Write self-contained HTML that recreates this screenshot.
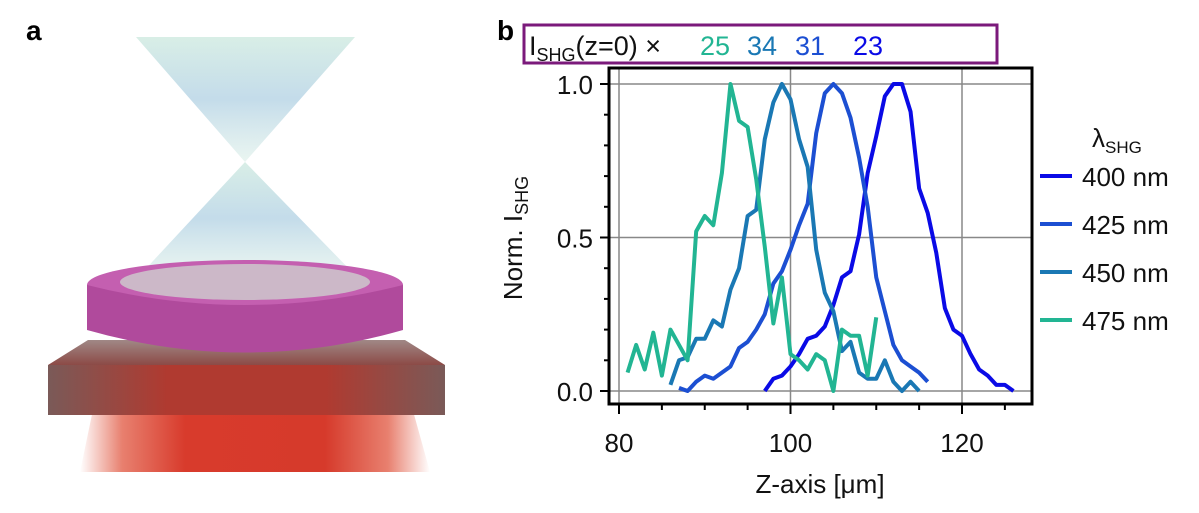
<!DOCTYPE html>
<html><head><meta charset="utf-8"><style>
body{margin:0;background:#fff;width:1199px;height:513px;overflow:hidden;font-family:"Liberation Sans",sans-serif}
svg{position:absolute;left:0;top:0}
</style></head><body>
<svg width="1199" height="513">
<defs>
<linearGradient id="red" x1="0" x2="1"><stop offset="0" stop-color="#fff"/><stop offset="0.12" stop-color="#e8806f"/><stop offset="0.3" stop-color="#d83b2c"/><stop offset="0.7" stop-color="#d63a2b"/><stop offset="0.88" stop-color="#e8806f"/><stop offset="1" stop-color="#fff"/></linearGradient>
<linearGradient id="slab" x1="0" y1="0" x2="0" y2="1"><stop offset="0" stop-color="#a08886"/><stop offset="1" stop-color="#8c4a46"/></linearGradient>
<linearGradient id="front" x1="0" x2="1"><stop offset="0" stop-color="#7a5a58"/><stop offset="0.3" stop-color="#b03a30"/><stop offset="0.7" stop-color="#b03a30"/><stop offset="1" stop-color="#7a5a58"/></linearGradient>
<linearGradient id="beam" x1="0" y1="0" x2="0" y2="1"><stop offset="0" stop-color="#bfe3d6" stop-opacity="0.8"/><stop offset="0.5" stop-color="#9cc4dc" stop-opacity="0.8"/><stop offset="1" stop-color="#cfe9e0" stop-opacity="0.6"/></linearGradient>
</defs>
<g>
<text x="26" y="40" font-size="28" font-weight="bold">a</text>
<path d="M80 472 L95 400 L410 400 L430 472 Z" fill="url(#red)"/>
<path d="M136 37 L355 37 L245 162 Z" fill="url(#beam)" opacity="0.75"/>
<path d="M245 162 L140 275 L355 275 Z" fill="url(#beam)" opacity="0.75"/>
<path d="M48 365 L88 340 L405 340 L445 365 Z" fill="url(#slab)"/>
<rect x="48" y="365" width="397" height="50" fill="url(#front)"/>
<ellipse cx="245" cy="285" rx="158" ry="25" fill="#c45fb0"/>
<path d="M87 285 L87 330 Q245 375 403 330 L403 285 Q245 325 87 285 Z" fill="#b04a9c"/>
<ellipse cx="245" cy="282" rx="125" ry="18" fill="#ccb8c8"/>
</g>
<g>
<text x="497" y="40" font-size="28" font-weight="bold">b</text>
<rect x="524" y="25" width="473" height="38" fill="#fff" stroke="#7b1a7b" stroke-width="3"/>
<text x="529" y="55" font-size="27" fill="#111">I<tspan font-size="18" dy="6">SHG</tspan><tspan dy="-6">(z=0) ×</tspan></text>
<g id="factors"></g>
<g id="grid"></g><g id="lines"></g>
<rect x="609" y="68" width="423" height="336" fill="none" stroke="#000" stroke-width="3"/>
<g id="ticks"></g>
<text x="820" y="493" font-size="26" text-anchor="middle" fill="#111">Z-axis [μm]</text>
<text transform="translate(522,238) rotate(-90)" font-size="26" text-anchor="middle" fill="#111">Norm. I<tspan font-size="18" dy="6">SHG</tspan></text>
<text x="1092" y="147" font-size="26" fill="#111">λ<tspan font-size="17" dy="6">SHG</tspan></text>
<g id="legend"></g>
</g>
</svg>
<script>
const NS="http://www.w3.org/2000/svg";
const labels=["400 nm","425 nm","450 nm","475 nm"];
const colors=["#0a0ae6","#1c4fd2","#1a78b4","#22b593"];
const factors=[25,34,31,23];
const factorColors=["#22b593","#1a78b4","#1c4fd2","#0a0ae6"];
const x400=[97,98,99,100,101,102,103,104,105,106,107,108,109,110,111,112,113,114,115,116,117,118,119,120,121,122,123,124,125,126];
const y400=[0,.04,.05,.08,.12,.17,.18,.21,.28,.37,.39,.51,.71,.83,.96,1,1,.91,.66,.58,.45,.27,.2,.18,.12,.07,.05,.02,.02,0];
const x425=[87,88,89,90,91,92,93,94,95,96,97,98,99,100,101,102,103,104,105,106,107,108,109,110,111,112,113,114,115,116];
const y425=[.01,0,.03,.05,.04,.06,.08,.14,.16,.2,.25,.35,.39,.46,.54,.61,.84,.97,1,.97,.89,.76,.6,.37,.26,.15,.1,.08,.06,.03];
const x450=[86,87,88,89,90,91,92,93,94,95,96,97,98,99,100,101,102,103,104,105,106,107,108,109,110,111,112,113,114,115];
const y450=[.02,.1,.11,.17,.17,.23,.21,.33,.4,.57,.59,.82,.94,1,.95,.82,.73,.46,.32,.26,.13,.16,.06,.04,.04,.1,.03,0,.03,0];
const x475=[81,82,83,84,85,86,87,88,89,90,91,92,93,94,95,96,97,98,99,100,101,102,103,104,105,106,107,108,109,110];
const y475=[.06,.15,.07,.19,.05,.2,.15,.1,.52,.57,.54,.71,1,.88,.86,.69,.47,.22,.37,.12,.1,.07,.12,.1,0,.2,.18,.18,.05,.24];
const xTicks=[80,100,120];
const yTicks=[0,0.5,1];
const xs=v=>619+(v-80)*171.5/20;
const ys=v=>391-v*307;
const g=id=>document.getElementById(id);
function mk(tag,a,parent){const e=document.createElementNS(NS,tag);for(const k in a)e.setAttribute(k,a[k]);parent.appendChild(e);return e;}
xTicks.forEach(t=>{const l=mk("line",{x1:xs(t),x2:xs(t),y1:68,y2:404,stroke:"#888","stroke-width":1.5},g("grid"));


const tx=mk("text",{x:xs(t),y:452,"font-size":26,"text-anchor":"middle",fill:"#111"},g("ticks"));tx.textContent=t;

});
for(let t=80;t<=125;t+=5){const l=mk("line",{x1:xs(t),x2:xs(t),y1:404,y2:t%20==0?414:410,stroke:"#000","stroke-width":2},g("ticks"));

}
yTicks.forEach(t=>{const l=mk("line",{x1:609,x2:1032,y1:ys(t),y2:ys(t),stroke:"#888","stroke-width":1.5},g("grid"));


const tx=mk("text",{x:593,y:ys(t)+10,"font-size":26,"text-anchor":"end",fill:"#111"},g("ticks"));tx.textContent=t.toFixed(1);

});
for(let t=0;t<=1.001;t+=0.1){const l=mk("line",{x1:t%0.5<0.01||t%0.5>0.49?600:604,x2:609,y1:ys(t),y2:ys(t),stroke:"#000","stroke-width":2},g("ticks"));

}
const series=[[x400,y400],[x425,y425],[x450,y450],[x475,y475]];
series.forEach((s,i)=>{const p=mk("polyline",{points:s[0].map((x,j)=>xs(x)+","+ys(s[1][j])).join(" "),fill:"none",stroke:colors[i],"stroke-width":4,"stroke-linejoin":"round"},g("lines"));


const ly=176+i*48;
const ll=mk("line",{x1:1040,x2:1072,y1:ly,y2:ly,stroke:colors[i],"stroke-width":4},g("legend"));


const lt=mk("text",{x:1082,y:ly+10,"font-size":26,fill:"#111"},g("legend"));lt.textContent=labels[i];

});
const fx=[700,747,795,853];
factors.forEach((f,i)=>{const t=mk("text",{x:fx[i],y:55,"font-size":27,fill:factorColors[i]},g("factors"));t.textContent=f;

});
</script>
</body></html>
